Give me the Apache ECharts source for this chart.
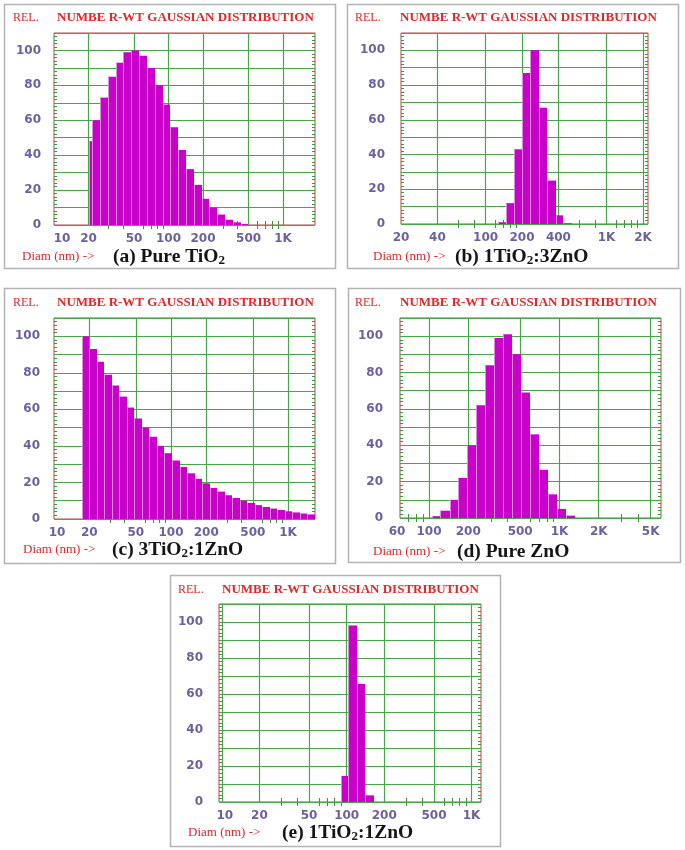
<!DOCTYPE html>
<html><head><meta charset="utf-8">
<script src="https://cdn.jsdelivr.net/npm/echarts@6/dist/echarts.min.js"></script>
<style>html,body{margin:0;padding:0;background:#fff;}#c{width:685px;height:850px;}</style>
</head><body><div id="c"></div>
<script>
// ---------- data ----------
// bin edges (nm) and relative heights for each histogram
const aEdges = [20.1, 21.6, 25.2, 29.5, 34.5, 40.4, 47.3, 55.4, 64.8, 75.8, 88.6, 103.7, 121.3, 141.9, 166, 194.6, 227.7, 266.3, 311.5, 364.4, 426.4, 498.7];
const aHeights = [48, 60, 73, 85, 93, 99, 100, 97, 90, 80, 69, 56, 43, 32, 23, 15, 10, 6, 3, 1.5, 0.6];

const bEdges = [126.2, 146.9, 171.1, 200.8, 234.7, 275.3, 321.9, 378.4, 438.9, 514.9];
const bHeights = [1, 12, 43, 87, 100, 67, 25, 5, 0.4];

const cEdges = [17.25, 20.0, 23.19, 26.9, 31.19, 36.17, 41.94, 48.63, 56.4, 65.4, 75.84, 87.94, 101.97, 118.25, 137.12, 159.0, 184.4, 213.8, 247.9, 287.5, 333.4, 386.6, 448.3, 519.9, 602.8, 699.0, 810.6, 940, 1090, 1264, 1466, 1700];
const cHeights = [100, 93, 86, 79, 73, 67, 61, 55, 50, 45, 40, 36, 32, 28.5, 25, 22, 19.5, 17, 15, 13, 11.5, 10, 8.8, 7.6, 6.6, 5.7, 4.9, 4.2, 3.6, 3.0, 2.5];

const dEdges = [104.9, 122.6, 144, 168.1, 197.3, 231, 270.6, 317, 371.5, 435.3, 510, 597.5, 700, 820.4, 960.9, 1126, 1319];
const dHeights = [1, 4, 10, 22, 40, 62, 84, 99, 101, 90, 69, 46, 26.5, 13, 5, 1.3];

const eEdges = [89.6, 102.6, 121, 141.3, 164.7];
const eHeights = [14.5, 98, 65.6, 3.7];

// x tick labels and minor tick values
const aTicks = [10, 20, 50, 100, 200, 500, 1000];
const bTicks = [20, 40, 100, 200, 400, 1000, 2000];
const cTicks = [10, 20, 50, 100, 200, 500, 1000];
const dTicks = [60, 100, 200, 500, 1000, 2000, 5000];
const eTicks = [10, 20, 50, 100, 200, 500, 1000];
const aMinor = [30, 40, 60, 70, 80, 90, 300, 400, 600, 700, 800, 900];
const bMinor = [60, 80, 120, 140, 160, 180, 600, 800, 1200, 1400, 1600, 1800];
const cMinor = [30, 40, 60, 70, 80, 90, 300, 400, 600, 700, 800, 900];
const dMinor = [70, 80, 90, 300, 400, 600, 700, 800, 900, 3000, 4000];
const eMinor = [30, 40, 60, 70, 80, 90, 300, 400, 600, 700, 800, 900];
const yTicks = [0, 20, 40, 60, 80, 100];

const titleText = 'NUMBE R-WT GAUSSIAN DISTRIBUTION';
const captions = [
  ['(a) Pure TiO', '2', ''],
  ['(b) 1TiO', '2', ':3ZnO'],
  ['(c) 3TiO', '2', ':1ZnO'],
  ['(d) Pure ZnO', '', ''],
  ['(e) 1TiO', '2', ':1ZnO']
];

// ---------- layout ----------
const panels = [
  {edges: aEdges, heights: aHeights, ticks: aTicks, minor: aMinor, xMin: 10, xMax: 1900,
   grid: {left: 54, top: 33, width: 261, height: 192}, box: [4, 4, 331, 264],
   rel: [13, 18], title: [57, 18], diam: [22, 257], cap: [113, 257], yMargin: 13, firstShift: 8},
  {edges: bEdges, heights: bHeights, ticks: bTicks, minor: bMinor, xMin: 20, xMax: 2200,
   grid: {left: 401, top: 33, width: 247, height: 191}, box: [347, 4, 331, 264],
   rel: [355, 18], title: [400, 18], diam: [373, 257], cap: [455, 257], yMargin: 16, firstShift: 0},
  {edges: cEdges, heights: cHeights, ticks: cTicks, minor: cMinor, xMin: 10, xMax: 1700,
   grid: {left: 54, top: 318, width: 261, height: 201}, box: [4, 288, 331, 275],
   rel: [13, 303], title: [57, 303], diam: [23, 550], cap: [112, 550], yMargin: 14, firstShift: 3},
  {edges: dEdges, heights: dHeights, ticks: dTicks, minor: dMinor, xMin: 60, xMax: 6000,
   grid: {left: 400, top: 318, width: 261, height: 200}, box: [348, 288, 332, 274],
   rel: [355, 303], title: [400, 303], diam: [373, 552], cap: [457, 552], yMargin: 17, firstShift: -3},
  {edges: eEdges, heights: eHeights, ticks: eTicks, minor: eMinor, xMin: 9.5, xMax: 1190,
   grid: {left: 219, top: 604, width: 262, height: 198}, box: [170, 575, 330, 271],
   rel: [178, 590], title: [222, 590], diam: [188, 833], cap: [282, 833], yMargin: 16, firstShift: 3}
];

const RED = '#e3262a';
const LABEL = '#6e5fa0';
const GREEN = '#4aa44a';
const FRAME = '#b04a46';
const BAR = '#c900c9';
const SEP = '#e08ae0';
const labelFont = {fontFamily: 'DejaVu Sans', fontSize: 12, fontWeight: 'bold', color: LABEL};

function fmt(v) { return v >= 1000 ? (v / 1000) + 'K' : String(v); }

const option = {animation: false, backgroundColor: '#fff', grid: [], xAxis: [], yAxis: [], series: [], graphic: []};

panels.forEach((p, i) => {
  option.grid.push(Object.assign({show: true, borderColor: FRAME, borderWidth: 1, backgroundColor: '#fff',
    containLabel: false, outerBoundsMode: 'none'}, p.grid));
  const pad = Math.abs(p.firstShift) * 2;
  const firstVal = p.ticks[0];
  // bottom log axis
  option.xAxis.push({
    type: 'log', logBase: 10, gridIndex: i, min: p.xMin, max: p.xMax, position: 'bottom',
    axisLine: {show: false}, splitLine: {show: false},
    axisTick: {show: true, inside: true, length: 4, customValues: p.minor, lineStyle: {color: '#3f963f'}},
    axisLabel: Object.assign({
      customValues: p.ticks, margin: 8, showMinLabel: true, showMaxLabel: true, hideOverlap: false,
      formatter: function (v) { const t = fmt(v); return (v === firstVal && pad) ? '{f|' + t + '}' : t; },
      rich: {f: Object.assign({}, labelFont, {padding: p.firstShift > 0 ? [0, 0, 0, pad] : [0, pad, 0, 0]})}
    }, labelFont)
  });
  // top log axis (minor ticks only)
  option.xAxis.push({
    type: 'log', logBase: 10, gridIndex: i, min: p.xMin, max: p.xMax, position: 'top',
    axisLine: {show: false}, splitLine: {show: false}, axisLabel: {show: false},
    axisTick: {show: true, inside: true, length: 4, customValues: p.minor, lineStyle: {color: '#3f963f'}}
  });
  // left y
  option.yAxis.push({
    type: 'value', gridIndex: i, min: 0, max: 110, interval: 10, position: 'left',
    axisLine: {show: false}, axisTick: {show: false, inside: true},
    minorTick: {show: true, splitNumber: 5, length: 3, lineStyle: {color: '#3f963f'}},
    splitLine: {show: true, lineStyle: {color: GREEN, width: 1.2}},
    axisLabel: Object.assign({customValues: yTicks, margin: p.yMargin}, labelFont)
  });
  // right y (minor ticks only)
  option.yAxis.push({
    type: 'value', gridIndex: i, min: 0, max: 110, interval: 10, position: 'right',
    axisLine: {show: false}, axisTick: {show: false, inside: true}, axisLabel: {show: false},
    minorTick: {show: true, splitNumber: 5, length: 3, lineStyle: {color: '#3f963f'}},
    splitLine: {show: false}
  });
  // vertical grid lines at labelled values (behind bars)
  option.series.push({
    type: 'line', xAxisIndex: 2 * i, yAxisIndex: 2 * i, data: [], z: 1, silent: true,
    markLine: {
      z: 1, silent: true, symbol: ['none', 'none'], label: {show: false}, animation: false,
      lineStyle: {color: GREEN, type: 'solid', width: 1.2},
      emphasis: {disabled: true},
      data: p.ticks.filter(v => v > p.xMin && v < p.xMax).map(v => ({xAxis: v}))
    }
  });
  // histogram bars
  const data = p.heights.map((h, k) => [p.edges[k], p.edges[k + 1], h]);
  option.series.push({
    type: 'custom', xAxisIndex: 2 * i, yAxisIndex: 2 * i, z: 5, silent: true,
    encode: {x: [0, 1], y: 2},
    data: data,
    renderItem: function (params, api) {
      const a = api.coord([api.value(0), api.value(2)]);
      const b = api.coord([api.value(1), 0]);
      const x0 = Math.round(a[0]), x1 = Math.round(b[0]);
      return {
        type: 'group', children: [
          {type: 'rect', shape: {x: x0, y: a[1], width: x1 - x0, height: b[1] - a[1]}, style: {fill: BAR}},
          {type: 'line', shape: {x1: x0 + 0.5, y1: a[1], x2: x0 + 0.5, y2: b[1]}, style: {stroke: SEP, lineWidth: 1}}
        ]
      };
    }
  });
  // panel frame and texts
  option.graphic.push({type: 'rect', silent: true, z: -10,
    shape: {x: p.box[0] + 0.5, y: p.box[1] + 0.5, width: p.box[2], height: p.box[3]},
    style: {fill: 'none', stroke: '#b3b3b3', lineWidth: 1.5}});
  option.graphic.push({type: 'text', silent: true, x: p.rel[0], y: p.rel[1],
    style: {text: 'REL.', fill: RED, font: '12px "Liberation Serif"', verticalAlign: 'middle'}});
  option.graphic.push({type: 'text', silent: true, x: p.title[0], y: p.title[1],
    style: {text: titleText, fill: RED, font: 'bold 13px "Liberation Serif"', verticalAlign: 'middle'}});
  option.graphic.push({type: 'text', silent: true, x: p.diam[0], y: p.diam[1],
    style: {text: 'Diam (nm) ->', fill: RED, font: '13px "Liberation Serif"', verticalAlign: 'middle'}});
  const c = captions[i];
  let txt = '{b|' + c[0] + '}';
  if (c[1]) txt += '{s|' + c[1] + '}';
  if (c[2]) txt += '{b|' + c[2] + '}';
  option.graphic.push({type: 'text', silent: true, x: p.cap[0], y: p.cap[1],
    style: {text: txt, verticalAlign: 'middle',
      rich: {
        b: {fontFamily: 'Liberation Serif', fontWeight: 'bold', fontSize: 19.5, fill: '#151515', lineHeight: 20},
        s: {fontFamily: 'Liberation Serif', fontWeight: 'bold', fontSize: 13, fill: '#151515', lineHeight: 16, verticalAlign: 'bottom'}
      }}});
});

const chart = echarts.init(document.getElementById('c'), null, {renderer: 'canvas'});
chart.setOption(option);
</script>
</body></html>
